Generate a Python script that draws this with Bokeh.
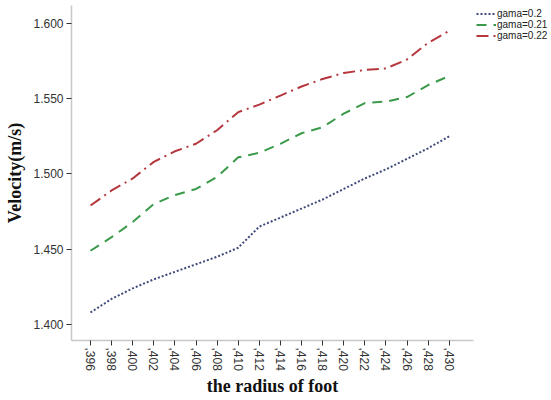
import math
from bokeh.plotting import figure
from bokeh.models import FixedTicker, NumeralTickFormatter, Legend, LegendItem, Range1d
from bokeh.embed import file_html
from bokeh.resources import INLINE

# foot radius values and their axis labels
radius = [0.396, 0.398, 0.400, 0.402, 0.404, 0.406, 0.408, 0.410, 0.412,
          0.414, 0.416, 0.418, 0.420, 0.422, 0.424, 0.426, 0.428, 0.430]
radius_labels = [",396", ",398", ",400", ",402", ",404", ",406", ",408", ",410", ",412",
                 ",414", ",416", ",418", ",420", ",422", ",424", ",426", ",428", ",430"]

# velocity (m/s) for each gama
vel_g020 = [1.408, 1.417, 1.424, 1.430, 1.435, 1.440, 1.445, 1.451, 1.465,
            1.471, 1.477, 1.483, 1.490, 1.497, 1.503, 1.510, 1.517, 1.525]
vel_g021 = [1.449, 1.458, 1.468, 1.480, 1.486, 1.490, 1.498, 1.511, 1.514,
            1.520, 1.527, 1.531, 1.540, 1.547, 1.548, 1.551, 1.559, 1.565]
vel_g022 = [1.479, 1.489, 1.497, 1.508, 1.515, 1.520, 1.529, 1.541, 1.546,
            1.552, 1.558, 1.563, 1.567, 1.569, 1.570, 1.576, 1.587, 1.595]

y_ticks = [1.400, 1.450, 1.500, 1.550, 1.600]

p = figure(width=551, height=400, output_backend="svg", toolbar_location=None,
           x_range=Range1d(0.3942, 0.4323), y_range=Range1d(1.3894, 1.6118),
           frame_width=402, frame_height=335,
           min_border_left=71, min_border_right=78, min_border_top=5, min_border_bottom=60)
p.outline_line_color = None
p.xgrid.visible = False
p.ygrid.visible = False
p.background_fill_color = "white"
p.border_fill_color = "white"

r1 = p.line(radius, vel_g020, line_color="#3f4a7c", line_width=2, line_dash="2 2")
r2 = p.line(radius, vel_g021, line_color="#3a9a4a", line_width=2, line_dash="10 7")
r3 = p.line(radius, vel_g022, line_color="#b5373d", line_width=2, line_dash="12 5 2 5")

# legend in the right-hand margin, at the top
legend = Legend(items=[LegendItem(label="gama=0.2", renderers=[r1]),
                       LegendItem(label="gama=0.21", renderers=[r2]),
                       LegendItem(label="gama=0.22", renderers=[r3])],
                location="top_left", padding=0, margin=3, spacing=0,
                glyph_width=20, glyph_height=11, label_standoff=1,
                label_text_font="Liberation Sans", label_text_font_size="10px",
                label_text_color="#222222", label_height=11,
                border_line_color=None, background_fill_alpha=0)
p.add_layout(legend, "right")

# axes
for ax in (p.xaxis, p.yaxis):
    ax.axis_line_color = "#c8c8c8"
    ax.axis_line_width = 1.5
    ax.major_tick_line_color = "#333333"
    ax.major_tick_out = 5
    ax.major_tick_in = 0
    ax.minor_tick_line_color = None
    ax.major_label_text_font = "Liberation Sans"
    ax.major_label_text_font_size = "12px"
    ax.major_label_text_color = "#333333"
    ax.axis_label_text_font = "Liberation Serif"
    ax.axis_label_text_font_style = "bold"
    ax.axis_label_text_font_size = "18px"
    ax.axis_label_text_color = "#111111"

p.yaxis.ticker = FixedTicker(ticks=y_ticks)
p.yaxis.formatter = NumeralTickFormatter(format="0.000")
p.yaxis.axis_label = "Velocity(m/s)"
p.yaxis.major_label_standoff = 3
p.yaxis.axis_label_standoff = 5

p.xaxis.ticker = FixedTicker(ticks=radius)
p.xaxis.major_label_overrides = {r: lab for r, lab in zip(radius, radius_labels)}
p.xaxis.major_label_orientation = -math.pi / 2
p.xaxis.major_label_standoff = 2
p.xaxis.axis_label = "the radius of foot"
p.xaxis.axis_label_standoff = 2

open("out.html", "w").write(file_html(p, INLINE))
